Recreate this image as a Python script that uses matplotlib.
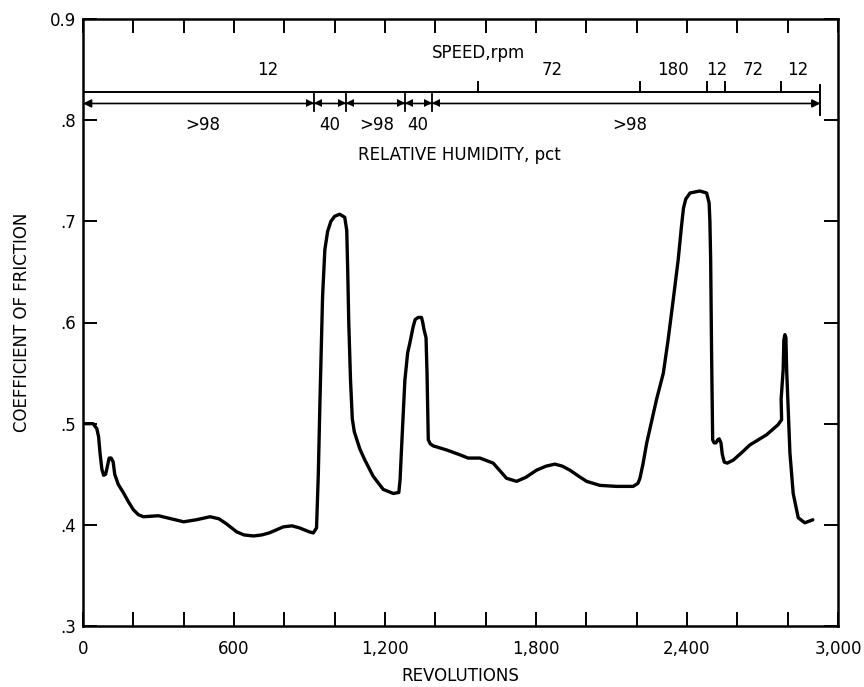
import matplotlib
matplotlib.use("Agg")
import matplotlib.pyplot as plt

plt.rcParams['font.family'] = ['DejaVu Sans']

# ---- data ----
revolutions = [0, 40, 55, 62, 68, 75, 82, 90, 97, 104, 112, 120, 126, 140, 160, 180, 200, 220, 240,
               300, 350, 400, 450, 505, 540, 570, 611, 640, 677, 710, 740, 796, 830, 860, 900, 915,
               928, 935, 942, 952, 961, 972, 985, 1000, 1020, 1040, 1048, 1052, 1056, 1063, 1070,
               1078, 1100, 1120, 1153, 1193, 1233, 1255, 1260, 1266, 1279, 1290, 1299, 1312, 1320,
               1332, 1345, 1350, 1355, 1363, 1367, 1372, 1380, 1392, 1445, 1500, 1530, 1577, 1630,
               1683, 1723, 1760, 1802, 1840, 1875, 1905, 1935, 1970, 2001, 2054, 2120, 2186, 2205,
               2213, 2225, 2240, 2260, 2279, 2306, 2325, 2345, 2365, 2378, 2386, 2395, 2412, 2451,
               2478, 2488, 2491, 2494, 2498, 2502, 2508, 2515, 2522, 2528, 2535, 2540, 2548, 2560,
               2584, 2620, 2650, 2716, 2762, 2776, 2774, 2782, 2785, 2789, 2793, 2796, 2809, 2822,
               2842, 2868, 2900]
friction = [0.500, 0.500, 0.495, 0.487, 0.470, 0.455, 0.449, 0.450, 0.458, 0.466, 0.466, 0.462, 0.450,
            0.440, 0.432, 0.423, 0.415, 0.410, 0.408, 0.409, 0.406, 0.403, 0.405, 0.408, 0.406, 0.401,
            0.393, 0.390, 0.389, 0.390, 0.392, 0.398, 0.399, 0.397, 0.393, 0.392, 0.397, 0.450, 0.527,
            0.626, 0.672, 0.690, 0.700, 0.705, 0.707, 0.704, 0.691, 0.650, 0.600, 0.543, 0.505, 0.492,
            0.475, 0.464, 0.448, 0.435, 0.431, 0.432, 0.445, 0.477, 0.543, 0.570, 0.580, 0.596, 0.603,
            0.605, 0.605, 0.600, 0.593, 0.585, 0.550, 0.484, 0.480, 0.478, 0.474, 0.469, 0.466, 0.466,
            0.461, 0.446, 0.443, 0.447, 0.454, 0.458, 0.460, 0.458, 0.454, 0.448, 0.443, 0.439, 0.438,
            0.438, 0.441, 0.446, 0.460, 0.481, 0.503, 0.524, 0.550, 0.583, 0.622, 0.662, 0.695, 0.713,
            0.722, 0.728, 0.730, 0.728, 0.718, 0.700, 0.662, 0.563, 0.484, 0.481, 0.481, 0.484, 0.485,
            0.481, 0.470, 0.462, 0.461, 0.464, 0.472, 0.479, 0.489, 0.499, 0.504, 0.524, 0.553, 0.583,
            0.588, 0.585, 0.553, 0.471, 0.431, 0.407, 0.402, 0.405]

speed_boundaries = [1570, 2215, 2480, 2550, 2775]
speed_end = 2930
speed_labels = ['12', '72', '180', '12', '72', '12']
speed_label_x = [735, 1863, 2344, 2519, 2662, 2841]

humidity_boundaries = [918, 1045, 1279, 1386]
humidity_labels = ['>98', '40', '>98', '40', '>98']
humidity_label_x = [477, 981, 1168, 1331, 2173]

x_major = [0, 600, 1200, 1800, 2400, 3000]
x_major_labels = ['0', '600', '1,200', '1,800', '2,400', '3,000']
x_minor = list(range(200, 3000, 200))
y_ticks = [0.3, 0.4, 0.5, 0.6, 0.7, 0.8, 0.9]
y_tick_labels = ['.3', '.4', '.5', '.6', '.7', '.8', '0.9']

# ---- figure ----
fig = plt.figure(figsize=(8.64, 6.87), dpi=100)
ax = fig.add_axes([83 / 864, 1 - 626 / 687, 755 / 864, 607 / 687])

ax.plot(revolutions, friction, color='black', lw=2.4, solid_joinstyle='round', solid_capstyle='round')

ax.set_xlim(0, 3000)
ax.set_ylim(0.3, 0.9)

ax.set_xticks(x_major)
ax.set_xticklabels(x_major_labels)
ax.set_xticks(x_minor, minor=True)
ax.set_yticks(y_ticks)
ax.set_yticklabels(y_tick_labels)

ax.tick_params(axis='x', which='both', direction='in', top=True, bottom=True,
               length=10, width=1.4, pad=10, labelsize=12)
ax.tick_params(axis='y', which='both', direction='in', left=True, right=True,
               length=10, width=1.4, pad=5, labelsize=12)
for s in ax.spines.values():
    s.set_linewidth(1.8)

# speed annotation
y_speed = 0.828
tick_h = 0.010
ax.plot([0, speed_end], [y_speed, y_speed], color='black', lw=1.4)
for b in speed_boundaries:
    ax.plot([b, b], [y_speed, y_speed + tick_h], color='black', lw=1.4)
ax.plot([speed_end, speed_end], [0.805, 0.835], color='black', lw=1.4)
for lab, lx in zip(speed_labels, speed_label_x):
    ax.text(lx, 0.850, lab, ha='center', va='center', fontsize=12)
ax.text(1570, 0.866, 'SPEED,rpm', ha='center', va='center', fontsize=12)

# humidity annotation
y_hum = 0.8165
ax.annotate('', xy=(0, y_hum), xytext=(speed_end, y_hum),
            arrowprops=dict(arrowstyle='<|-|>', color='black', lw=1.2,
                            mutation_scale=12, shrinkA=0, shrinkB=0))
for b in humidity_boundaries:
    ax.plot([b, b], [y_hum - 0.007, y_hum + 0.009], color='black', lw=1.3)
    ax.plot([b - 16], [y_hum], marker='>', color='black', ms=6, mew=0)
    ax.plot([b + 16], [y_hum], marker='<', color='black', ms=6, mew=0)
for lab, lx in zip(humidity_labels, humidity_label_x):
    ax.text(lx, 0.795, lab, ha='center', va='center', fontsize=12)
ax.text(1494, 0.766, 'RELATIVE HUMIDITY, pct', ha='center', va='center', fontsize=12)

# axis labels
fig.text(460 / 864, 1 - 676 / 687, 'REVOLUTIONS', ha='center', va='center', fontsize=12)
fig.text(22 / 864, 1 - 322 / 687, 'COEFFICIENT OF FRICTION', ha='center', va='center',
         rotation=90, fontsize=12)

fig.savefig('out.png', dpi=100)
